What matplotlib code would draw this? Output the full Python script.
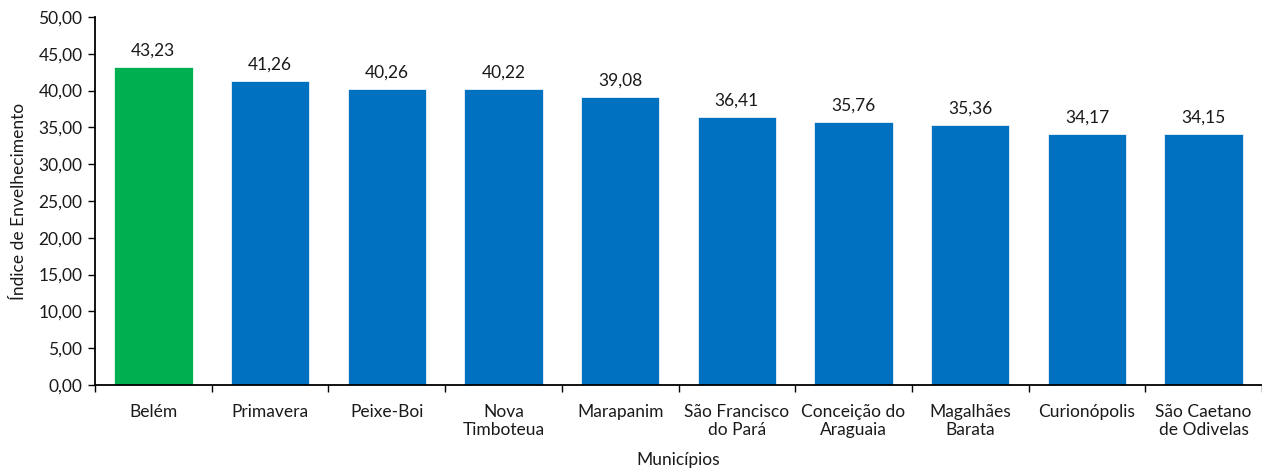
import matplotlib
matplotlib.use("Agg")
import matplotlib.pyplot as plt
from matplotlib.ticker import FuncFormatter, MultipleLocator, FixedLocator

categories = ["Belém", "Primavera", "Peixe-Boi", "Nova\nTimboteua", "Marapanim",
              "São Francisco\ndo Pará", "Conceição do\nAraguaia", "Magalhães\nBarata",
              "Curionópolis", "São Caetano\nde Odivelas"]
values = [43.23, 41.26, 40.26, 40.22, 39.08, 36.41, 35.76, 35.36, 34.17, 34.15]
colors = ["#00B050"] + ["#0070C0"] * 9

plt.rcParams['font.family'] = ['Lato', 'DejaVu Sans']
FS = 12.5
TC = "#1a1a1a"

fig = plt.figure(figsize=(12.62, 4.73), dpi=100)
ax = fig.add_axes([95/1262, 1-385/473, 1-95/1262, (385-17)/473])

x = list(range(len(categories)))
ax.bar(x, values, width=0.672, color=colors, edgecolor="#ffffff", linewidth=0.5, zorder=2)
for xi, v in zip(x, values):
    ax.annotate(f"{v:.2f}".replace(".", ","), (xi, v), xytext=(0, 6), textcoords="offset points",
                ha="center", va="bottom", fontsize=FS, color=TC)

ax.set_xlim(-0.5, len(categories) - 0.5)
ax.set_ylim(0, 50)
ax.yaxis.set_major_locator(MultipleLocator(5))
ax.yaxis.set_major_formatter(FuncFormatter(lambda v, p: f"{v:.2f}".replace(".", ",")))
ax.set_xticks(x)
ax.set_xticklabels(categories, fontsize=FS, color=TC, linespacing=1.1)
ax.tick_params(axis="x", which="major", length=0, pad=14)
ax.xaxis.set_minor_locator(FixedLocator([i + 0.5 for i in range(-1, len(categories))]))
ax.tick_params(axis="x", which="minor", length=5, width=1, direction="out")
ax.tick_params(axis="y", labelsize=FS, length=5, width=1, direction="out", labelcolor=TC, pad=4)

for s in ["top", "right"]:
    ax.spines[s].set_visible(False)
for s in ["left", "bottom"]:
    ax.spines[s].set_linewidth(1.3)

ax.set_ylabel("Índice de Envelhecimento", fontsize=FS, color=TC, labelpad=8)
ax.set_xlabel("Municípios", fontsize=FS, color=TC, labelpad=10)

fig.savefig("out.png", dpi=100)
